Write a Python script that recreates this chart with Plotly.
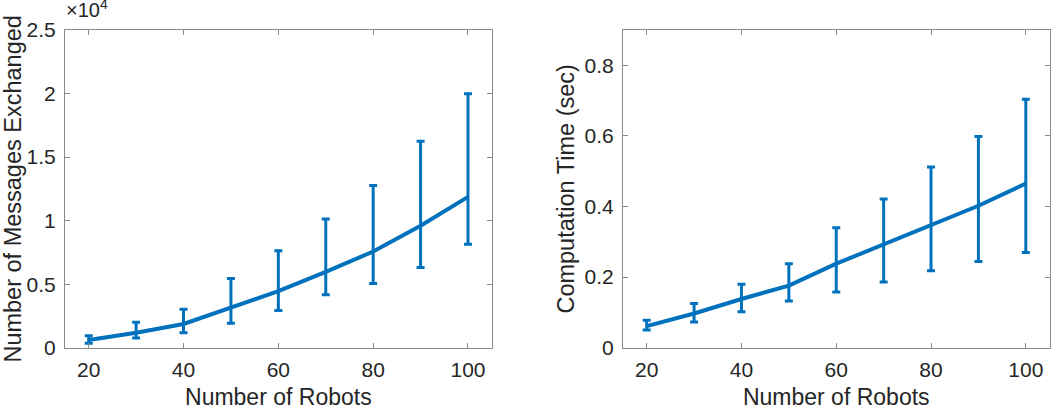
import plotly.graph_objects as go

robots = [20, 30, 40, 50, 60, 70, 80, 90, 100]

msg_mean = [600, 1180, 1870, 3190, 4450, 5970, 7570, 9600, 11870]
msg_upper = [950, 2000, 3030, 5440, 7630, 10130, 12760, 16250, 19980]
msg_lower = [350, 765, 1180, 1920, 2920, 4160, 5050, 6310, 8150]

time_mean = [0.061, 0.097, 0.138, 0.176, 0.238, 0.292, 0.346, 0.402, 0.465]
time_upper = [0.078, 0.125, 0.180, 0.238, 0.340, 0.421, 0.512, 0.598, 0.704]
time_lower = [0.050, 0.073, 0.102, 0.132, 0.158, 0.186, 0.218, 0.244, 0.270]

x_ticks = [20, 40, 60, 80, 100]
msg_tickvals = [0, 5000, 10000, 15000, 20000, 25000]
msg_ticktext = ["0", "0.5", "1", "1.5", "2", "2.5"]
time_ticks = [0, 0.2, 0.4, 0.6, 0.8]
time_ticktext = ["0", "0.2", "0.4", "0.6", "0.8"]

BLUE = "#0072BD"
TXT = "#262626"
AX = "#8a8a8a"
FONT = "Liberation Sans, Arial, Helvetica, sans-serif"

fig = go.Figure()

fig.add_trace(go.Scatter(
    x=robots, y=msg_mean, mode="lines",
    line=dict(color=BLUE, width=4),
    error_y=dict(type="data", symmetric=False,
                 array=[u - m for u, m in zip(msg_upper, msg_mean)],
                 arrayminus=[m - l for m, l in zip(msg_mean, msg_lower)],
                 color=BLUE, thickness=3, width=4),
    xaxis="x", yaxis="y", showlegend=False))

fig.add_trace(go.Scatter(
    x=robots, y=time_mean, mode="lines",
    line=dict(color=BLUE, width=4),
    error_y=dict(type="data", symmetric=False,
                 array=[u - m for u, m in zip(time_upper, time_mean)],
                 arrayminus=[m - l for m, l in zip(time_mean, time_lower)],
                 color=BLUE, thickness=3, width=4),
    xaxis="x2", yaxis="y2", showlegend=False))

W, H = 1051, 410
ybot, ytop = 1 - 347.7 / H, 1 - 30 / H

common_axis = dict(showline=True, linecolor=AX, linewidth=1, mirror="ticks",
                   ticks="inside", ticklen=5, tickcolor=AX, showgrid=False,
                   zeroline=False, automargin=False,
                   tickfont=dict(size=21, color=TXT, family=FONT))
title_font = dict(size=23, color=TXT, family=FONT)
ytitle_font = dict(size=23.5, color=TXT, family=FONT)

fig.update_layout(
    width=W, height=H,
    margin=dict(l=0, r=0, t=0, b=0),
    paper_bgcolor="white", plot_bgcolor="white",
    font=dict(family=FONT, color=TXT),
    xaxis=dict(domain=[65 / W, 491.7 / W], range=[15, 105], tickvals=x_ticks,
               ticklabelstandoff=3,
               title=dict(text="Number of Robots", font=title_font, standoff=11),
               anchor="y", **common_axis),
    yaxis=dict(domain=[ybot, ytop], range=[0, 25000], tickvals=msg_tickvals, ticktext=msg_ticktext,
               ticklabelstandoff=4,
               title=dict(text="Number of Messages Exchanged", font=ytitle_font, standoff=3),
               anchor="x", **common_axis),
    xaxis2=dict(domain=[623 / W, 1049.5 / W], range=[15, 105], tickvals=x_ticks,
                ticklabelstandoff=3,
                title=dict(text="Number of Robots", font=title_font, standoff=11),
                anchor="y2", **common_axis),
    yaxis2=dict(domain=[ybot, ytop], range=[0, 0.9], tickvals=time_ticks, ticktext=time_ticktext,
                ticklabelstandoff=4,
                title=dict(text="Computation Time (sec)", font=ytitle_font, standoff=3),
                anchor="x2", **common_axis),
    annotations=[dict(text="×10<sup>4</sup>", x=64 / W, y=1 - 23 / H, xref="paper", yref="paper",
                      xanchor="left", yanchor="bottom", showarrow=False,
                      font=dict(size=20, color=TXT, family=FONT))],
)

fig.write_html("out.html", config={"displayModeBar": False},
               post_script="document.body.style.margin='0';document.body.style.overflow='hidden';")
